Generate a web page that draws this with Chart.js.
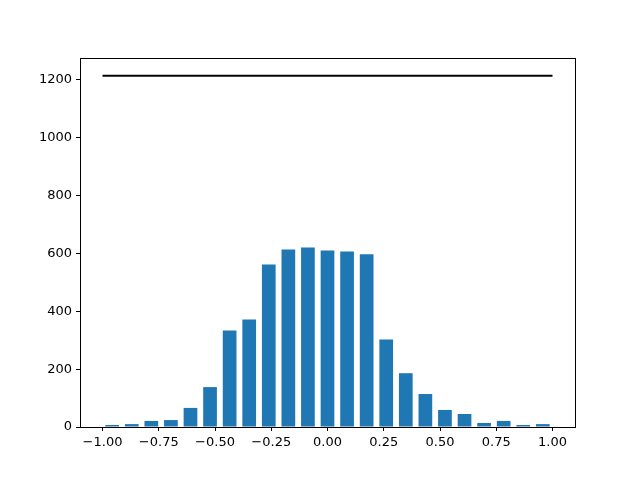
<!DOCTYPE html>
<html>
<head>
<meta charset="utf-8">
<script src="https://cdn.jsdelivr.net/npm/chart.js@4"></script>
<style>
  html, body { margin: 0; padding: 0; background: #fff; }
  #wrap { width: 640px; height: 480px; }
</style>
</head>
<body>
<div id="wrap"><canvas id="histChart" width="640" height="480"></canvas></div>
<script>
// bin centres of the histogram
const binCenters = [-0.957, -0.870, -0.783, -0.696, -0.609, -0.522, -0.435, -0.348, -0.261, -0.174, -0.087, 0.000,
                    0.087, 0.174, 0.261, 0.348, 0.435, 0.522, 0.609, 0.696, 0.783, 0.870, 0.957];
// counts per bin
const counts = [7, 10, 21, 24, 66, 138, 334, 372, 562, 614, 621, 610,
                607, 597, 303, 186, 114, 59, 45, 14, 21, 7, 10];
// horizontal reference line
const lineX = [-1, 1];
const lineY = [1215, 1215];

const xTicks = [-1, -0.75, -0.5, -0.25, 0, 0.25, 0.5, 0.75, 1];
const yTicks = [0, 200, 400, 600, 800, 1000, 1200];

const FONT = { family: "'DejaVu Sans', sans-serif", size: 13 };

// frame around plot area (matplotlib style box)
const frame = {
  id: "frame",
  afterDatasetsDraw(chart) {
    const { ctx, chartArea: a } = chart;
    ctx.save();
    ctx.strokeStyle = "#000";
    ctx.lineWidth = 1;
    ctx.strokeRect(Math.round(a.left) + 0.5, Math.round(a.top) + 0.5,
                   Math.round(a.right - a.left), Math.round(a.bottom - a.top));
    ctx.restore();
  }
};

new Chart(document.getElementById("histChart"), {
  type: "bar",
  data: {
    datasets: [
      {
        type: "line",
        data: lineX.map((x, i) => ({ x: x, y: lineY[i] })),
        borderColor: "#000",
        borderWidth: 2,
        pointRadius: 0,
        fill: false
      },
      {
        data: binCenters.map((x, i) => ({ x: x, y: counts[i] })),
        backgroundColor: "#1f77b4",
        borderWidth: 0,
        categoryPercentage: 1,
        barPercentage: 0.7
      }
    ]
  },
  options: {
    responsive: false,
    animation: false,
    layout: { padding: { top: 58, right: 65, left: 0, bottom: 0 } },
    plugins: { legend: { display: false }, tooltip: { enabled: false } },
    scales: {
      x: {
        type: "linear",
        offset: false,
        min: -1.1,
        max: 1.1,
        afterFit: s => { s.height = 53; },
        afterBuildTicks: s => { s.ticks = xTicks.map(v => ({ value: v })); },
        ticks: {
          color: "#000",
          font: FONT,
          maxRotation: 0,
          padding: 4,
          callback: v => (v < 0 ? "\u2212" : "") + Math.abs(v).toFixed(2)
        },
        grid: { offset: false, drawOnChartArea: false, drawTicks: true, tickLength: 4, color: "#000" },
        border: { display: true, color: "#000" }
      },
      y: {
        type: "linear",
        min: 0,
        max: 1276,
        afterFit: s => { s.width = 80; },
        afterBuildTicks: s => { s.ticks = yTicks.map(v => ({ value: v })); },
        ticks: { color: "#000", font: FONT, padding: 4, callback: v => String(v) },
        grid: { drawOnChartArea: false, drawTicks: true, tickLength: 4, color: "#000" },
        border: { display: true, color: "#000" }
      }
    }
  },
  plugins: [frame]
});
</script>
</body>
</html>
